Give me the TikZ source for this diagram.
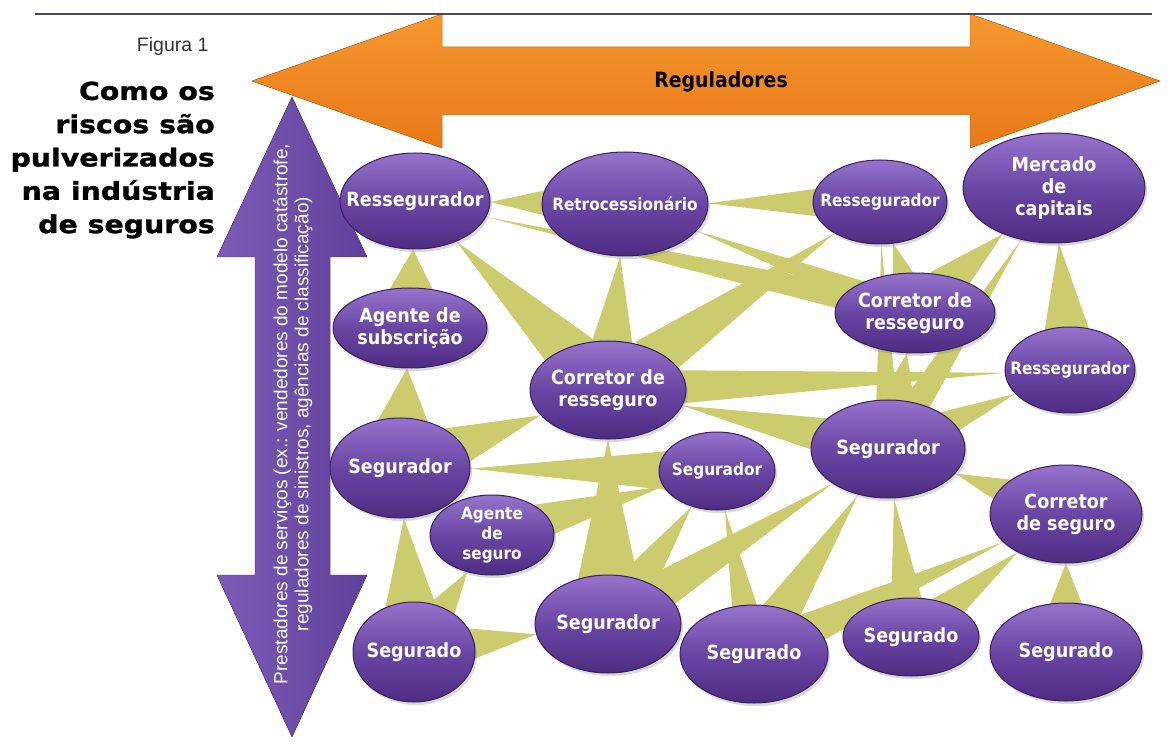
\documentclass[tikz,border=0pt]{standalone}
\usepackage{fontspec}
\setmainfont{Liberation Sans}
\newfontfamily\bubfont{DejaVu Sans}[FakeStretch=0.9]
\newfontfamily\headfont{DejaVu Sans}[FakeStretch=1.15,BoldFeatures={FakeBold=1.2}]
\usepackage{tikz}
\usetikzlibrary{calc,shapes,shadows}
\usetikzlibrary{backgrounds}

\definecolor{bubtop}{RGB}{150,116,204}
\definecolor{bubmid}{RGB}{106,70,164}
\definecolor{bubbot}{RGB}{78,44,130}
\definecolor{bubline}{RGB}{58,30,96}
\definecolor{bandcol}{RGB}{204,204,110}
\definecolor{orgtop}{RGB}{246,152,46}
\definecolor{orgbot}{RGB}{232,120,24}
\definecolor{orgline}{RGB}{196,98,18}
\definecolor{arrtop}{RGB}{124,92,182}
\definecolor{arrbot}{RGB}{96,64,154}
\definecolor{rulecol}{RGB}{78,72,88}

\begin{document}
\begin{tikzpicture}[x=1pt,y=-1pt,
	bub/.style args={#1/#2}{ellipse,minimum width=#1,minimum height=#2,inner sep=0pt,
		top color=bubtop,bottom color=bubbot,middle color=bubmid,draw=bubline,line width=1pt,
		drop shadow={shadow xshift=2pt,shadow yshift=-3pt,opacity=.3}},
	bubtxt/.style={text=white,align=center,font=\bubfont\bfseries\fontsize{19.5}{22}\selectfont},
	bubsm/.style={text=white,align=center,font=\bubfont\bfseries\fontsize{17}{20}\selectfont},
	band/.style={fill=bandcol}]
	
	\useasboundingbox (0,0) rectangle (1168,751);
	\draw[rulecol,line width=1.3pt] (35,14) -- (1152,14);
	
	\node[anchor=base east,text=black!80,font=\fontsize{19.5}{24}\selectfont] (fig) at (212,52) {Figura 1};
	\node[anchor=east,align=right,inner sep=0pt,font=\headfont\bfseries\fontsize{24.7}{33.3}\selectfont] (ttl) at (215,160)
		{Como os\\riscos são\\pulverizados\\na indústria\\de seguros};
	
	\node[bub=150pt/96pt,label={[bubtxt]center:Ressegurador}] (r1) at (415,201) {};
	\node[bub=166pt/104pt,label={[bubsm]center:Retrocessionário}] (rt) at (625,204) {};
	\node[bub=134pt/84pt,label={[bubsm]center:Ressegurador}] (r2) at (880,202) {};
	\node[bub=182pt/110pt,label={[bubtxt]center:Mercado\\de\\capitais}] (mc) at (1054,188) {};
	\node[bub=154pt/80pt,label={[bubtxt]center:Agente de\\subscrição}] (as) at (410,328) {};
	\node[bub=160pt/80pt,label={[bubtxt]center:Corretor de\\resseguro}] (cr2) at (915,313) {};
	\node[bub=156pt/98pt,label={[bubtxt]center:Corretor de\\resseguro}] (cr1) at (608,390) {};
	\node[bub=130pt/86pt,label={[bubsm]center:Ressegurador}] (r3) at (1070,370) {};
	\node[bub=140pt/100pt,label={[bubtxt]center:Segurador}] (s1) at (400,468) {};
	\node[bub=116pt/78pt,label={[bubsm]center:Segurador}] (s2) at (717,471) {};
	\node[bub=154pt/98pt,label={[bubtxt]center:Segurador}] (s4) at (888,449) {};
	\node[bub=124pt/80pt,label={[bubsm]center:Agente\\de\\seguro}] (ag) at (492,535) {};
	\node[bub=152pt/98pt,label={[bubtxt]center:Corretor\\de seguro}] (cs) at (1066,514) {};
	\node[bub=146pt/98pt,label={[bubtxt]center:Segurador}] (s3) at (608,624) {};
	\node[bub=122pt/100pt,label={[bubtxt]center:Segurado}] (g1) at (414,652) {};
	\node[bub=148pt/98pt,label={[bubtxt]center:Segurado}] (g2) at (754,654) {};
	\node[bub=136pt/78pt,label={[bubtxt]center:Segurado}] (g3) at (911,637) {};
	\node[bub=152pt/98pt,label={[bubtxt]center:Segurado}] (g4) at (1066,652) {};
	
	\node[font=\bubfont\bfseries\fontsize{21}{24}\selectfont] (reg) at (721,82) {Reguladores};
	\node[rotate=90,text=white,align=center,font=\fontsize{19}{21}\selectfont] (prest) at (293,414)
		{Prestadores de serviços (ex.: vendedores do modelo catástrofe,\\reguladores de sinistros, agências de classificação)};
	
	\begin{scope}[on background layer]
		\filldraw[top color=orgtop,bottom color=orgbot,draw=orgline] (252,81) -- (442,14) -- (442,47) -- (970,47) -- (970,14)
			-- (1160,81) -- (970,148) -- (970,115) -- (442,115) -- (442,148) -- cycle;
		\filldraw[left color=arrtop,right color=arrbot,draw=arrbot!80!black] (292,97) -- (367,257) -- (330,257) -- (330,575)
			-- (367,575) -- (292,737) -- (217,575) -- (255,575) -- (255,257) -- (217,257) -- cycle;
		
		\foreach \a/\b/\w in {r1/rt/15pt,r1/as/28pt,r1/cr1/26pt,r1/cr2/13pt,rt/r2/15pt,rt/cr1/23pt,rt/cr2/12pt,
			r2/cr1/24pt,r2/cr2/14pt,r2/s4/11pt,mc/cr2/20pt,mc/r3/25pt,mc/s4/14pt,r3/cr1/17pt,r3/s4/14pt,
			cr1/s1/22pt,cr1/s3/32pt,cr1/s4/18pt,cr2/s4/22pt,as/s1/30pt,s1/s2/20pt,s2/ag/18pt,s2/s3/20pt,
			s2/g2/14pt,s1/g1/28pt,ag/g1/17pt,s3/g1/18pt,s4/s3/20pt,s4/g2/20pt,s4/g3/17pt,s4/cs/15pt,
			cs/g2/17pt,cs/g3/17pt,cs/g4/21pt}{
			\path (\a) -- (\b) coordinate[pos=0] (tp) coordinate[pos=1] (bp);
			\coordinate (bc) at ($(bp)!-14pt!(tp)$);
			\fill[band] (tp) -- ($(bc)!\w!90:(tp)$) -- ($(bc)!\w!-90:(tp)$) -- cycle;
		}
	\end{scope}
	
\end{tikzpicture}
\end{document}
